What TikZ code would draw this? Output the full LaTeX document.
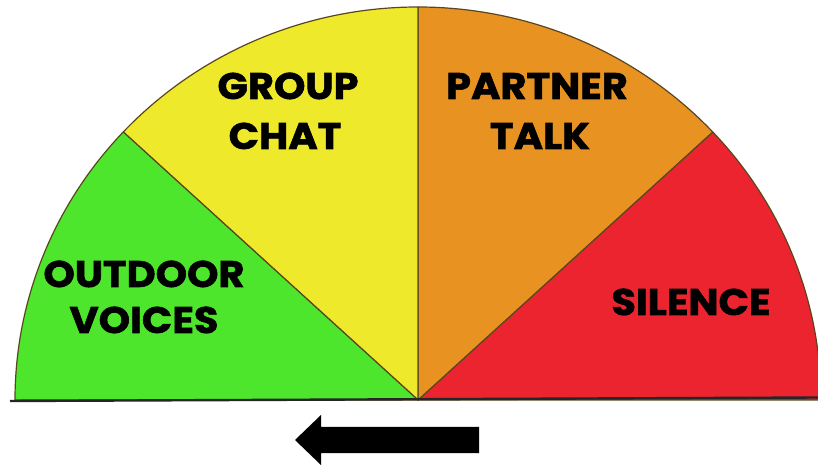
\documentclass[tikz,border=0pt]{standalone}
\usepackage{fontspec}
\newfontfamily\lblfont{Poppins}[BoldFeatures={FakeBold=1.6, FakeStretch=1.08}]
\definecolor{cgreen}{RGB}{77,230,44}
\definecolor{cyellow}{RGB}{238,234,43}
\definecolor{corange}{RGB}{232,147,33}
\definecolor{cred}{RGB}{235,36,48}
\definecolor{cedge}{RGB}{90,70,30}
\tikzset{
  wedge/.style={draw=cedge, line width=1.2pt, line join=round},
  lbl/.style={font=\lblfont\bfseries\fontsize{37}{37}\selectfont, text=black, anchor=base, inner sep=0pt},
}
\begin{document}
\begin{tikzpicture}[x=1pt,y=1pt]
\useasboundingbox (0,0) rectangle (818,468);
\fill[white] (0,0) rectangle (818,468);
\coordinate (c) at (418,68);
\def\rx{403}\def\ry{393}
\filldraw[wedge, fill=cred] (c) -- ++(0:\rx pt and \ry pt) coordinate (e0)
  arc[start angle=0, end angle=43, x radius=\rx, y radius=\ry] coordinate (e1) -- cycle;
\filldraw[wedge, fill=corange] (c) -- (e1)
  arc[start angle=43, end angle=90, x radius=\rx, y radius=\ry] coordinate (e2) -- cycle;
\filldraw[wedge, fill=cyellow] (c) -- (e2)
  arc[start angle=90, end angle=137, x radius=\rx, y radius=\ry] coordinate (e3) -- cycle;
\filldraw[wedge, fill=cgreen] (c) -- (e3)
  arc[start angle=137, end angle=180, x radius=\rx, y radius=\ry] coordinate (e4) -- cycle;
\coordinate (bl) at (10,67);
\coordinate (br) at (818,70.5);
\draw[line width=2.4pt, black!85] (bl) -- (br);
% labels
\node[lbl] (group) at (288,369) {GROUP};
\node[lbl] (chat) at (285,319) {CHAT};
\node[lbl] (partner) at (537,369) {PARTNER};
\node[lbl] (talk) at (540,319) {TALK};
\node[lbl] (outdoor) at (144,181) {OUTDOOR};
\node[lbl] (voices) at (144,135) {VOICES};
\node[lbl] (silence) at (691,153) {SILENCE};
% arrow
\fill[black] (479,41) -- (321,41) -- (321,53) -- (295,28) -- (321,3) -- (321,15) -- (479,15) -- cycle;
\end{tikzpicture}
\end{document}
